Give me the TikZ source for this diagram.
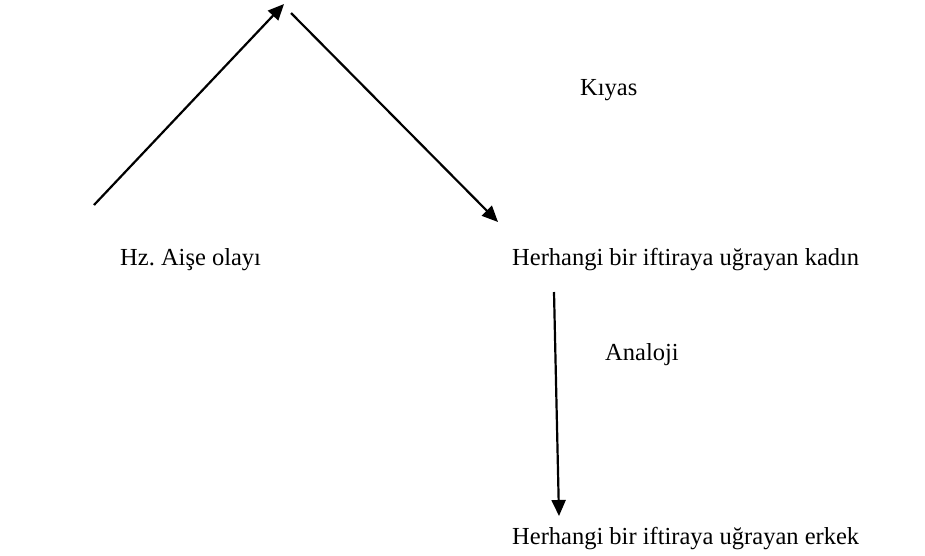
\documentclass[tikz,border=0pt]{standalone}
\usepackage{fontspec}
\setmainfont{Liberation Serif}
\usetikzlibrary{arrows.meta}
\frenchspacing
\begin{document}
\begin{tikzpicture}[x=1pt,y=-1pt,
  lbl/.style={anchor=west,inner sep=0pt,font=\fontsize{24.5}{29}\selectfont},
  arr/.style={line width=2.2pt,-{Triangle[length=16pt,width=14pt]}}]
\useasboundingbox (0,0) rectangle (925,555);
\node[lbl] (aise) at (120,260) {Hz. Aişe olayı};
\node[lbl] (kiyas) at (580,90) {Kıyas};
\node[lbl] (kadin) at (512,260) {Herhangi bir iftiraya uğrayan kadın};
\node[lbl] (analoji) at (605,355) {Analoji};
\node[lbl] (erkek) at (512,539) {Herhangi bir iftiraya uğrayan erkek};
\coordinate (a1) at (94,205);
\coordinate (a2) at (284,4);
\coordinate (b1) at (291,13);
\coordinate (b2) at (498,222);
\coordinate (c1) at (554,292);
\coordinate (c2) at (559,516);
\draw[arr] (a1) -- (a2);
\draw[arr] (b1) -- (b2);
\draw[arr] (c1) -- (c2);
\end{tikzpicture}
\end{document}
